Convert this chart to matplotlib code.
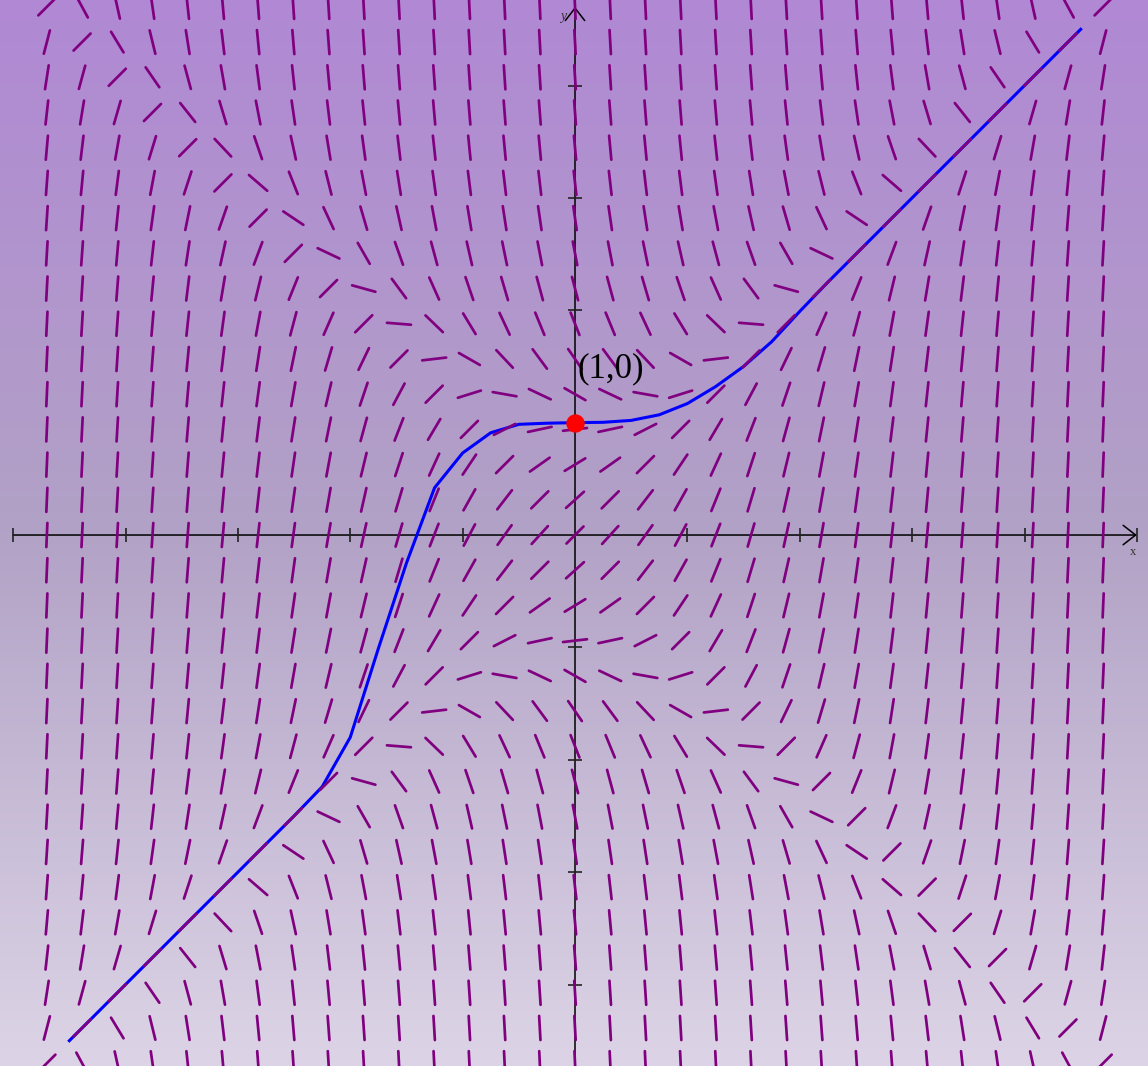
import numpy as np
import matplotlib
matplotlib.use("Agg")
import matplotlib.pyplot as plt
from matplotlib.collections import LineCollection
from matplotlib.colors import LinearSegmentedColormap

# Campo de pendientes de dy/dx = 1 + x^2 - y^2 y la solución con y(0) = 1

# Malla del campo (31 x 31 puntos centrados en el origen)
field_step = 4.7 / 15
field_x = np.arange(-15, 16) * field_step
field_y = np.arange(-15, 16) * field_step

# Curva solución (valores leídos cada 0.25 en x)
curve_x = [-4.5, -4.25, -4.0, -3.75, -3.5, -3.25, -3.0, -2.75, -2.5, -2.25,
           -2.0, -1.75, -1.5, -1.25, -1.0, -0.75, -0.5, -0.25, 0.0,
           0.25, 0.5, 0.75, 1.0, 1.25, 1.5, 1.75, 2.0, 2.25, 2.5,
           2.75, 3.0, 3.25, 3.5, 3.75, 4.0, 4.25, 4.5]
curve_y = [-4.5, -4.25, -4.0, -3.75, -3.5, -3.25, -3.0, -2.75, -2.5, -2.24,
           -1.80, -1.01, -0.25, 0.42, 0.73, 0.91, 0.985, 0.995, 1.0,
           1.003, 1.02, 1.07, 1.17, 1.32, 1.50, 1.72, 1.99, 2.25, 2.5,
           2.75, 3.0, 3.25, 3.5, 3.75, 4.0, 4.25, 4.5]

# Condición inicial y su etiqueta
point_x, point_y = 0.0, 1.0
point_label = "(1,0)"

x_ticks = [-5, -4, -3, -2, -1, 1, 2, 3, 4, 5]
y_ticks = [-4, -3, -2, -1, 1, 2, 3, 4]


def slope(x, y):
    return 1 + x ** 2 - y ** 2


fig = plt.figure(figsize=(11.48, 10.66), dpi=100)
ax = fig.add_axes([0, 0, 1, 1])
xmin, xmax = -5.117, 5.099
ymin, ymax = -4.725, 4.761
ax.set_xlim(xmin, xmax)
ax.set_ylim(ymin, ymax)
ax.axis("off")

# Fondo degradado
bg = LinearSegmentedColormap.from_list(
    "fondo", [(0.0, "#b088d4"), (0.5, "#b2a2c6"), (1.0, "#dcd4e6")])
grad = np.linspace(0, 1, 256).reshape(-1, 1)
ax.imshow(grad, cmap=bg, extent=[xmin, xmax, ymin, ymax],
          aspect="auto", origin="upper", zorder=0)

# Ejes con flechas
axis_kw = dict(arrowstyle="->,head_length=0.45,head_width=0.35",
               color="black", lw=1.1, shrinkA=0, shrinkB=0, mutation_scale=20)
ax.annotate("", xy=(5.0, 0), xytext=(-5.0, 0), arrowprops=axis_kw, zorder=1)
ax.annotate("", xy=(0, 4.7), xytext=(0, -4.9), arrowprops=axis_kw, zorder=1)
ax.plot(x_ticks, [0] * len(x_ticks), ls="none", marker="|", ms=10,
        mew=1.2, color="#222222", zorder=1)
ax.plot([0] * len(y_ticks), y_ticks, ls="none", marker="_", ms=10,
        mew=1.2, color="#222222", zorder=1)
ax.text(4.965, -0.15, "x", family="Liberation Serif", fontsize=9,
        ha="center", va="center", color="#333333")
ax.text(-0.105, 4.61, "y", family="Liberation Serif", fontsize=10,
        style="italic", ha="center", va="center", color="#333333")

# Solución
ax.plot(curve_x, curve_y, color="blue", lw=2.2, zorder=2)

# Segmentos del campo de pendientes
seg_len = 0.215
segs = []
for yy in field_y:
    for xx in field_x:
        m = slope(xx, yy)
        d = np.array([1.0, m]) / np.hypot(1.0, m)
        segs.append([(xx - d[0] * seg_len / 2, yy - d[1] * seg_len / 2),
                     (xx + d[0] * seg_len / 2, yy + d[1] * seg_len / 2)])
lc = LineCollection(segs, colors="purple", linewidths=1.95,
                    capstyle="round", zorder=3)
ax.add_collection(lc)

# Punto inicial
ax.scatter([point_x], [point_y], s=150, color="red", zorder=4)
ax.text(point_x + 0.02, point_y + 0.48, point_label, family="Liberation Serif",
        fontsize=25, ha="left", va="center", color="black", zorder=5)

fig.savefig("out.png", dpi=100)
